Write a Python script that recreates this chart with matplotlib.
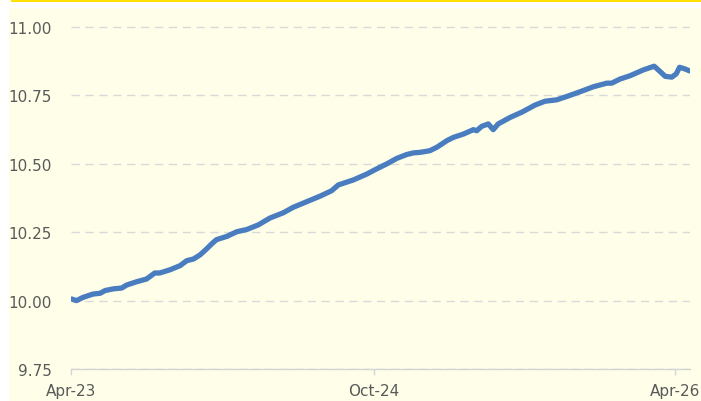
import matplotlib
matplotlib.use("Agg")
import matplotlib.pyplot as plt
import pandas as pd
from matplotlib.patches import Rectangle

dates = [
    "2023-04-02", "2023-04-11", "2023-04-23", "2023-05-11", "2023-05-24", "2023-06-02",
    "2023-06-17", "2023-07-02", "2023-07-11", "2023-07-29", "2023-08-16", "2023-08-31",
    "2023-09-09", "2023-09-28", "2023-10-16", "2023-10-28", "2023-11-09", "2023-11-21",
    "2023-12-03", "2023-12-12", "2023-12-21", "2024-01-09", "2024-01-27", "2024-02-14",
    "2024-03-06", "2024-03-27", "2024-04-20", "2024-05-08", "2024-06-02", "2024-06-26",
    "2024-07-17", "2024-07-29", "2024-08-25", "2024-09-19", "2024-10-04", "2024-10-25",
    "2024-11-12", "2024-11-30", "2024-12-12", "2024-12-24", "2025-01-11", "2025-01-24",
    "2025-02-11", "2025-02-23", "2025-03-13", "2025-03-31", "2025-04-06", "2025-04-15",
    "2025-04-27", "2025-05-06", "2025-05-15", "2025-06-06", "2025-06-27", "2025-07-21",
    "2025-08-08", "2025-08-29", "2025-09-16", "2025-10-11", "2025-11-04", "2025-11-28",
    "2025-12-07", "2025-12-22", "2026-01-09", "2026-02-03", "2026-02-22", "2026-03-05",
    "2026-03-14", "2026-03-26", "2026-04-03", "2026-04-09", "2026-04-19", "2026-04-27",
]
values = [
    10.006, 10.000, 10.012, 10.024, 10.027, 10.037,
    10.043, 10.046, 10.057, 10.069, 10.079, 10.101,
    10.101, 10.113, 10.128, 10.146, 10.152, 10.167,
    10.189, 10.207, 10.223, 10.235, 10.252, 10.260,
    10.277, 10.302, 10.321, 10.341, 10.362, 10.382,
    10.402, 10.423, 10.441, 10.463, 10.479, 10.500,
    10.520, 10.534, 10.540, 10.542, 10.548, 10.561,
    10.585, 10.597, 10.609, 10.625, 10.621, 10.637,
    10.646, 10.625, 10.646, 10.670, 10.689, 10.715,
    10.729, 10.734, 10.746, 10.764, 10.782, 10.795,
    10.795, 10.810, 10.822, 10.844, 10.857, 10.837,
    10.820, 10.817, 10.829, 10.853, 10.847, 10.840,
]
xtick_dates = ["2023-04-01", "2024-10-01", "2026-04-01"]
xtick_labels = ["Apr-23", "Oct-24", "Apr-26"]
ytick_values = [9.75, 10.00, 10.25, 10.50, 10.75, 11.00]

W, H = 701, 402
fig = plt.figure(figsize=(W / 100, H / 100), dpi=100, facecolor="white")
# cream panel and yellow top band
fig.patches.append(Rectangle((9 / W, 0), 1 - 9 / W, 1 - 9 / H, transform=fig.transFigure,
                             facecolor="#FFFFE9", edgecolor="none", zorder=-10))
fig.patches.append(Rectangle((11 / W, 1 - 2.5 / H), 1 - 11 / W, 2.5 / H, transform=fig.transFigure,
                             facecolor="#FFE000", edgecolor="none", zorder=-10))

ax = fig.add_axes([71 / W, 1 - 370 / H, (690 - 71) / W, (370 - 27) / H])
ax.set_zorder(5)
ax.patch.set_visible(False)

x = pd.to_datetime(dates)
ax.plot(x, values, color="#4A7DBF", lw=3.8, solid_capstyle="round", solid_joinstyle="round", zorder=3)

ax.set_xlim(pd.Timestamp("2023-04-01"), pd.Timestamp("2026-04-28"))
ax.set_ylim(9.75, 11.004)

ax.set_yticks(ytick_values)
ax.set_yticklabels([f"{v:.2f}" for v in ytick_values])
ax.set_xticks(pd.to_datetime(xtick_dates))
ax.set_xticklabels(xtick_labels)

for s in ["top", "right", "left"]:
    ax.spines[s].set_visible(False)
ax.spines["bottom"].set_color("#D4D4D4")
ax.spines["bottom"].set_linewidth(1.0)

ax.tick_params(axis="y", length=0, pad=14, labelsize=11, labelcolor="#595959")
ax.tick_params(axis="x", length=4, width=1, color="#D4D4D4", pad=6, labelsize=11, labelcolor="#595959")

ax.yaxis.grid(True, color="#D9D9D9", linestyle=(0, (6, 4)), linewidth=1.0)
ax.set_axisbelow(True)

fig.savefig("out.png", dpi=100, facecolor=fig.get_facecolor())
